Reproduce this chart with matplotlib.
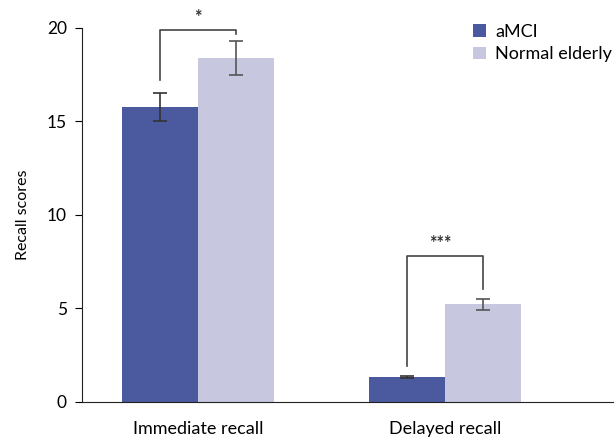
import matplotlib
matplotlib.use("Agg")
import matplotlib.pyplot as plt
import numpy as np

categories = ["Immediate recall", "Delayed recall"]
groups = ["aMCI", "Normal elderly"]
amci = [15.75, 1.33]
amci_err = [0.75, 0.06]
normal = [18.4, 5.22]
normal_err = [0.9, 0.28]
yticks = [0, 5, 10, 15, 20]
sig_labels = ["*", "***"]
colors = ["#4b5a9e", "#c7c8e0"]

plt.rcParams['font.family'] = ['Lato', 'DejaVu Sans']

fig = plt.figure(figsize=(6.14, 4.42), dpi=100)
ax = fig.add_axes([0.1336, 0.0905, 0.8664, 0.8462])

x = np.arange(len(categories))
w = 0.308
ax.bar(x - w/2, amci, w, color=colors[0], label=groups[0])
ax.bar(x + w/2, normal, w, color=colors[1], label=groups[1])
ax.errorbar(x - w/2, amci, yerr=amci_err, fmt='none', ecolor='#333333',
            elinewidth=1.2, capsize=5, capthick=1.2)
ax.errorbar(x + w/2, normal, yerr=normal_err, fmt='none', ecolor='#555555',
            elinewidth=1.2, capsize=5, capthick=1.2)

# significance brackets
brackets = [(17.2, 19.9, 19.7), (1.95, 7.8, 6.05)]
for i, (yl, ytop, yr) in enumerate(brackets):
    xl, xr = x[i] - w/2, x[i] + w/2
    ax.plot([xl, xl, xr, xr], [yl, ytop, ytop, yr], color='#444444', lw=1.2)
    ax.text(x[i] - 0.02 * i, ytop + 0.2, sig_labels[i], ha='center', va='bottom',
            fontsize=13, fontweight='bold', color='#333333')

ax.set_xlim(-0.47, 1.684)
ax.set_ylim(0, 20)
ax.set_yticks(yticks)
ax.set_xticks(x)
ax.set_xticklabels(categories)
ax.tick_params(axis='x', length=0, pad=14, labelsize=13)
ax.tick_params(axis='y', length=5, direction='out', labelsize=12.5, pad=6)
for s in ['top', 'right']:
    ax.spines[s].set_visible(False)
ax.spines['left'].set_color('#222222')
ax.spines['bottom'].set_color('#222222')
ax.set_ylabel("Recall scores", fontsize=11.5, labelpad=12)
ax.legend(loc='upper left', bbox_to_anchor=(0.722, 1.03), frameon=False,
          borderaxespad=0, fontsize=13, handlelength=0.7, handleheight=0.7,
          handletextpad=0.5, labelspacing=0.35)

fig.savefig("out.png", dpi=100)
